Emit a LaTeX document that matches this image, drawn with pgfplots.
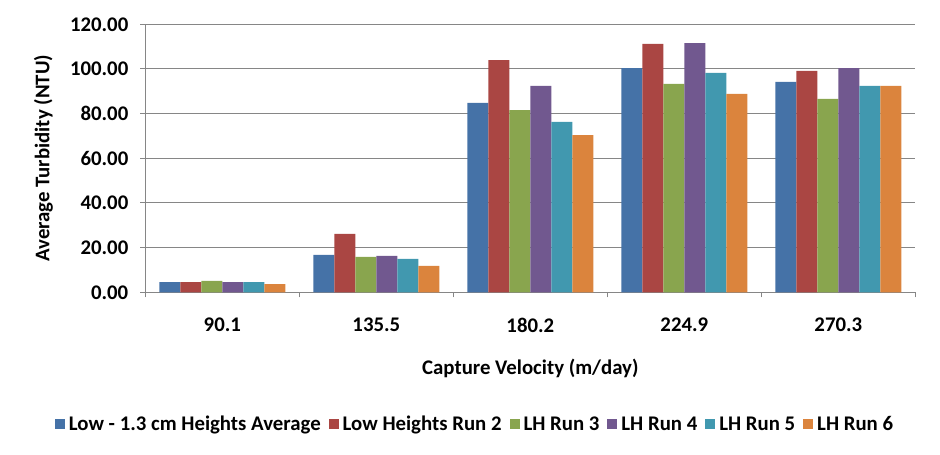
\documentclass[border=0pt]{standalone}
\usepackage{pgfplots}
\pgfplotsset{compat=1.18}
\usepackage{fontspec}
\setmainfont{Carlito}
\definecolor{c1}{HTML}{4572A7}
\definecolor{c2}{HTML}{AA4643}
\definecolor{c3}{HTML}{89A54E}
\definecolor{c4}{HTML}{71588F}
\definecolor{c5}{HTML}{4198AF}
\definecolor{c6}{HTML}{DB843D}
\definecolor{gridc}{HTML}{868686}
\newcommand\ff{\fontsize{15.6}{18}\selectfont\bfseries}
\begin{document}
\begin{tikzpicture}
\begin{axis}[
  at={(0,0)}, anchor=south west,
  scale only axis, width=577.5pt, height=201pt,
  ybar=0pt, bar width=0.1364,
  xmin=-0.5, xmax=4.5, ymin=0, ymax=120,
  xtick={-0.5,0.5,1.5,2.5,3.5,4.5},
  xticklabels={90.1,135.5,180.2,224.9,270.3},
  x tick label as interval,
  ytick={0,20,...,120},
  axis lines*=left,
  axis line style={gridc, line width=0.75pt},
  tick align=outside,
  major tick length=3.75pt,
  tick style={gridc, line width=0.75pt},
  ymajorgrids, grid style={gridc, line width=0.75pt},
  /pgf/number format/assume math mode=true,
  /pgf/number format/.cd, fixed, fixed zerofill, precision=2, /pgfplots/.cd,
  tick label style={font=\ff},
  yticklabel style={anchor=east, xshift=-5.5pt},
  xticklabel style={anchor=north, yshift=-12pt},
  ylabel={Average Turbidity (NTU)},
  xlabel={Capture Velocity (m/day)},
  label style={font=\ff},
  ylabel style={at={(axis description cs:-0.1325,0.5)}, anchor=center, rotate=0},
  xlabel style={at={(axis description cs:0.5,-0.2836)}, anchor=center},
  legend style={at={(axis description cs:0.4286,-0.4925)}, anchor=center,
    draw=none, font=\ff, legend columns=6,
    /tikz/every odd column/.append style={column sep=1pt},
    /tikz/every even column/.append style={column sep=4pt}},
  legend image code/.code={\fill[#1,draw=none] (0pt,-3.75pt) rectangle (7.5pt,3.75pt);},
]
\addplot[fill=c1, draw=none] coordinates {(0,4.6) (1,16.7) (2,84.8) (3,100.4) (4,94.2)};
\addplot[fill=c2, draw=none] coordinates {(0,4.6) (1,26.1) (2,104.0) (3,111.2) (4,99.1)};
\addplot[fill=c3, draw=none] coordinates {(0,5.1) (1,15.8) (2,81.6) (3,93.3) (4,86.6)};
\addplot[fill=c4, draw=none] coordinates {(0,4.6) (1,16.3) (2,92.4) (3,111.6) (4,100.4)};
\addplot[fill=c5, draw=none] coordinates {(0,4.6) (1,14.9) (2,76.3) (3,98.2) (4,92.4)};
\addplot[fill=c6, draw=none] coordinates {(0,3.7) (1,11.8) (2,70.4) (3,88.8) (4,92.4)};
\legend{Low - 1.3 cm Heights Average, Low Heights Run 2, LH Run 3, LH Run 4, LH Run 5, LH Run 6}
\end{axis}
\pgfresetboundingbox
\path[use as bounding box] (-109pt,-122pt) rectangle (596pt,219.2pt);
\end{tikzpicture}
\end{document}
